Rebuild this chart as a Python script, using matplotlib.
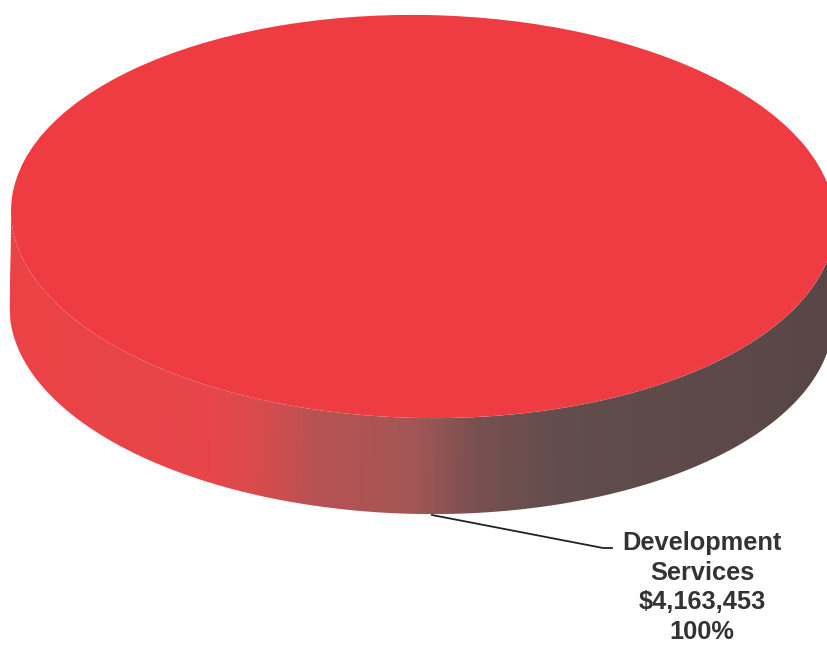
import matplotlib
matplotlib.use("Agg")
import matplotlib.pyplot as plt
import numpy as np
from matplotlib.colors import LinearSegmentedColormap
from matplotlib.patches import Polygon
from matplotlib.transforms import Affine2D

# ---- data ----
categories = ["Development Services"]
values = [4163453]
top_colors = ["#ee3c42"]

total = sum(values)
percents = [v / total * 100 for v in values]

W, H = 827, 646
DPI = 100
fig = plt.figure(figsize=(W / DPI, H / DPI), dpi=DPI)
fig.patch.set_facecolor("white")

# geometry in pixels (layout)
cx, cy = 423.0, 216.5
rx, ry = 412.0, 201.5
depth = 96.0
tilt = -1.0            # degrees, right side slightly lower
pad = 30.0
d_u = depth / ry

x0, x1 = cx - rx - pad, cx + rx + pad
y0, y1 = cy - ry - pad, cy + ry + depth + pad
ax = fig.add_axes([x0 / W, 1 - y1 / H, (x1 - x0) / W, (y1 - y0) / H])
ax.axis("off")
ax.set_xlim(-1 - pad / rx, 1 + pad / rx)
ax.set_ylim(-1 - d_u - pad / ry, 1 + pad / ry)

rot = Affine2D().rotate_deg_around(cx, H - cy, tilt)

# side of the disk: horizontal shading (lit left, dark right)
def u(px):
    return (px - cx) / rx

stops = [(u(11), "#ec4246"), (u(215), "#e6474a"), (u(262), "#d84b4d"),
         (u(320), "#b85253"), (u(420), "#a35656"), (u(478), "#7a5050"),
         (u(560), "#634d4d"), (u(840), "#584646")]
lo, hi = stops[0][0], stops[-1][0]
cmap = LinearSegmentedColormap.from_list(
    "side", [((s - lo) / (hi - lo), c) for s, c in stops])

xs = np.linspace(-1, 1, 600)
lower_top = -np.sqrt(np.clip(1 - xs ** 2, 0, None))
verts = np.concatenate([np.column_stack([xs, lower_top]),
                        np.column_stack([xs[::-1], lower_top[::-1] - d_u])])
side_poly = Polygon(verts, closed=True, facecolor="none", edgecolor="none")
ax.add_patch(side_poly)
side_poly.set_transform(ax.transData + rot)
grad = np.linspace(0, 1, 512).reshape(1, -1)
im = ax.imshow(grad, cmap=cmap, extent=(lo, hi, -1 - d_u - 0.02, 0.02),
               aspect="auto", interpolation="bilinear", zorder=1)
im.set_transform(ax.transData + rot)
im.set_clip_path(side_poly)

# top face via pie
wedges, _ = ax.pie(values, colors=top_colors, radius=1.0, center=(0, 0),
                   startangle=90, wedgeprops=dict(linewidth=0), frame=False)
for w in wedges:
    w.set_zorder(2)
    w.set_transform(ax.transData + rot)
    w.set_clip_on(False)
ax.set_aspect("auto")
ax.set_xlim(-1 - pad / rx, 1 + pad / rx)
ax.set_ylim(-1 - d_u - pad / ry, 1 + pad / ry)

# overlay for label and leader line (pixel coords)
ov = fig.add_axes([0, 0, 1, 1])
ov.set_xlim(0, W)
ov.set_ylim(H, 0)
ov.axis("off")
ov.patch.set_alpha(0)

ov.plot([432, 603, 612], [515, 548, 548], color="#222222", lw=1.3)
label = "Development\nServices\n${:,}\n{:.0f}%".format(values[0], percents[0])
ov.text(702, 531, label, ha="center", va="top", fontsize=18.3,
        fontweight="bold", family="Liberation Sans", color="#333333",
        linespacing=1.3)

fig.savefig("out.png", dpi=DPI, facecolor="white")
